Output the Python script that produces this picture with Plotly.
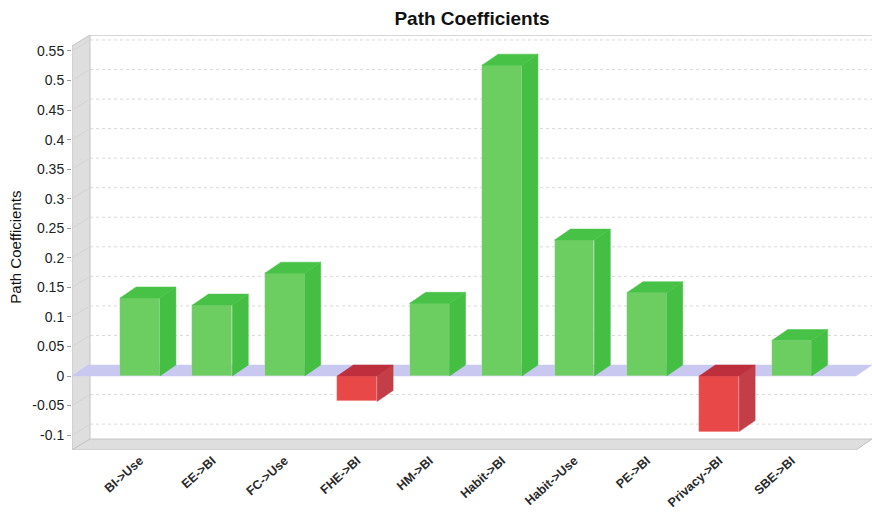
import plotly.graph_objects as go

# Path coefficients of the structural model
paths = ["BI->Use", "EE->BI", "FC->Use", "FHE->BI", "HM->BI",
         "Habit->BI", "Habit->Use", "PE->BI", "Privacy->BI", "SBE->BI"]
coefficients = [0.132, 0.120, 0.174, -0.043, 0.123,
                0.526, 0.230, 0.141, -0.094, 0.060]
y_ticks = [-0.1, -0.05, 0, 0.05, 0.1, 0.15, 0.2, 0.25, 0.3, 0.35, 0.4, 0.45, 0.5, 0.55]
y_tick_text = ["-0.1", "-0.05", "0", "0.05", "0.1", "0.15", "0.2", "0.25",
               "0.3", "0.35", "0.4", "0.45", "0.5", "0.55"]

# Canvas / plot-area geometry (pixels)
W, H = 872, 519
ML, MR, MT, MB = 72, 0, 35, 69
X_RANGE = [-0.939, 10.11]
Y_RANGE = [-0.1252, 0.577]
px_per_x = (W - ML - MR) / (X_RANGE[1] - X_RANGE[0])
px_per_y = (H - MT - MB) / (Y_RANGE[1] - Y_RANGE[0])

# 3D depth offset expressed in axis units
DX = 16 / px_per_x
DY = 11 / px_per_y
WALL_DX = 18 / px_per_x
BAR_W = 0.55

FONT = "Liberation Sans, Arial, sans-serif"
GREEN_FRONT, GREEN_SIDE, GREEN_TOP = "#6CCD60", "#45BE44", "#47C247"
RED_FRONT, RED_SIDE, RED_TOP = "#E84848", "#C33E46", "#BE2F3E"
WALL_FILL, WALL_EDGE = "#DEDEDE", "#C4C4C4"
GRID = "#D9D9D9"
ZERO_PLANE = "#C8C8F0"

xs = list(range(len(paths)))
xmin, xmax = X_RANGE
ymin, ymax = Y_RANGE

fig = go.Figure()

# Front faces of the bars
front_colors = [GREEN_FRONT if v >= 0 else RED_FRONT for v in coefficients]
fig.add_trace(go.Bar(
    x=xs, y=coefficients, base=0, width=BAR_W,
    marker=dict(color=front_colors, line=dict(color="rgba(255,255,255,0.35)", width=0.6)),
    hoverinfo="skip", showlegend=False,
))


def faces(positive):
    sx, sy, tx, ty = [], [], [], []
    for x, v in zip(xs, coefficients):
        if (v >= 0) != positive:
            continue
        xl, xr = x - BAR_W / 2, x + BAR_W / 2
        top = max(v, 0)
        # right-hand side face
        sx += [xr, xr + DX, xr + DX, xr, xr, None]
        sy += [0, DY, v + DY, v, 0, None]
        # top face
        tx += [xl, xl + DX, xr + DX, xr, xl, None]
        ty += [top, top + DY, top + DY, top, top, None]
    return sx, sy, tx, ty


for positive, side_c, top_c in [(True, GREEN_SIDE, GREEN_TOP), (False, RED_SIDE, RED_TOP)]:
    sx, sy, tx, ty = faces(positive)
    fig.add_trace(go.Scatter(x=sx, y=sy, mode="lines", fill="toself", fillcolor=side_c,
                             line=dict(color=side_c, width=0.5), hoverinfo="skip",
                             showlegend=False))
    fig.add_trace(go.Scatter(x=tx, y=ty, mode="lines", fill="toself", fillcolor=top_c,
                             line=dict(color=top_c, width=0.5), hoverinfo="skip",
                             showlegend=False))

shapes = []


def poly(pts, fill, edge, width=1):
    path = "M " + " L ".join(f"{x},{y}" for x, y in pts) + " Z"
    return dict(type="path", path=path, xref="x", yref="y", layer="below",
                fillcolor=fill, line=dict(color=edge, width=width))


# back wall top edge
shapes.append(dict(type="line", xref="x", yref="y", layer="below",
                   x0=xmin + WALL_DX, x1=xmax, y0=ymax, y1=ymax,
                   line=dict(color="#D6D6D6", width=2)))

# dotted gridlines on the back wall
for t in y_ticks:
    if t == 0:
        continue
    shapes.append(dict(type="line", xref="x", yref="y", layer="below",
                       x0=xmin + WALL_DX, x1=xmax, y0=t + DY, y1=t + DY,
                       line=dict(color=GRID, width=1, dash="dot")))

# left wall, with faint tick traces across it
shapes.append(poly([(xmin, ymin), (xmin, ymax - DY), (xmin + WALL_DX, ymax),
                    (xmin + WALL_DX, ymin + DY)], WALL_FILL, WALL_EDGE))
for t in y_ticks:
    shapes.append(dict(type="line", xref="x", yref="y", layer="below",
                       x0=xmin, x1=xmin + WALL_DX, y0=t, y1=t + DY,
                       line=dict(color="#D4D4D4", width=1)))

# floor
shapes.append(poly([(xmin, ymin), (xmin + WALL_DX, ymin + DY), (xmax, ymin + DY),
                    (xmax - DX, ymin)], WALL_FILL, WALL_EDGE))

# zero plane
shapes.append(poly([(xmin, 0), (xmin + DX, DY), (xmax, DY), (xmax - DX, 0)],
                   ZERO_PLANE, ZERO_PLANE, 0.5))

fig.update_layout(
    width=W, height=H,
    margin=dict(l=ML, r=MR, t=MT, b=MB, pad=0),
    paper_bgcolor="white", plot_bgcolor="white",
    bargap=0,
    shapes=shapes,
    title=dict(text="<b>Path Coefficients</b>", x=0.5, xref="paper", xanchor="center",
               y=1 - 18 / H, yref="container", yanchor="middle",
               font=dict(family=FONT, size=19, color="#111")),
    xaxis=dict(range=X_RANGE, tickvals=xs, ticktext=[f"<b>{p}</b>" for p in paths],
               tickangle=-42, showgrid=False, zeroline=False, showline=False,
               ticks="", ticklen=0,
               tickfont=dict(family=FONT, size=12.5, color="#2a2a2a")),
    yaxis=dict(range=Y_RANGE, tickvals=y_ticks, ticktext=y_tick_text,
               showgrid=False, zeroline=False, showline=False,
               ticks="outside", ticklen=4, tickcolor="#999",
               tickfont=dict(family=FONT, size=14, color="#222")),
    annotations=[dict(text="Path Coefficients", textangle=-90, xref="paper", yref="paper",
                      x=(16 - ML) / (W - ML - MR), y=0.49, xanchor="center", yanchor="middle",
                      showarrow=False, font=dict(family=FONT, size=15, color="#111"))],
)

fig.write_html("out.html")
